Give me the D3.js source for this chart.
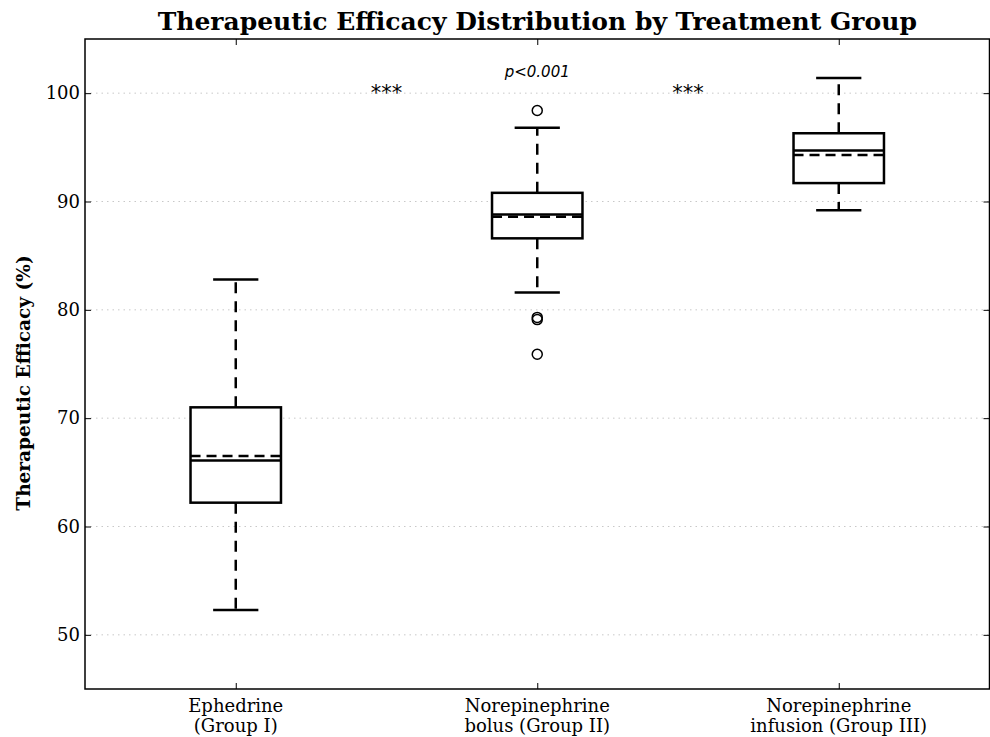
<!DOCTYPE html>
<html>
<head>
<meta charset="utf-8">
<script src="https://cdn.jsdelivr.net/npm/d3@7"></script>
<style>
  body { margin: 0; background: #fff; }
  text { font-family: "DejaVu Serif", serif; }
</style>
</head>
<body>
<script>
// groups, two-line labels
var groups = ["Ephedrine (Group I)", "Norepinephrine bolus (Group II)", "Norepinephrine infusion (Group III)"];
var labelLines = [["Ephedrine", "(Group I)"], ["Norepinephrine", "bolus (Group II)"], ["Norepinephrine", "infusion (Group III)"]];

// box stats
var whiskerLow = [52.3, 81.6, 89.2];
var q1 = [62.2, 86.6, 91.7];
var median = [66.1, 88.8, 94.7];
var mean = [66.5, 88.6, 94.3];
var q3 = [71.0, 90.8, 96.3];
var whiskerHigh = [82.8, 96.8, 101.4];
var outliers = [[], [98.4, 79.3, 79.1, 75.9], []];

var yTicks = [50, 60, 70, 80, 90, 100];
var sigMarks = [{x: 1.5, text: "***"}, {x: 2.5, text: "***"}];

var W = 990, H = 737;
var margin = {left: 85, right: 0, top: 39, bottom: 48};

var svg = d3.select("body").append("svg").attr("width", W).attr("height", H);

var x = d3.scaleLinear().domain([0.5, 3.5]).range([margin.left, W - margin.right - 0.5]);
var y = d3.scaleLinear().domain([45, 105]).range([H - margin.bottom, margin.top]);

var x0 = margin.left, x1 = W - margin.right - 0.5, y0 = margin.top, y1 = H - margin.bottom;

// grid
svg.append("g").selectAll("line").data(yTicks).enter().append("line")
  .attr("x1", x0).attr("x2", x1)
  .attr("y1", function(d){ return y(d); }).attr("y2", function(d){ return y(d); })
  .attr("stroke", "#c8c8c8").attr("stroke-width", 1).attr("stroke-dasharray", "1.5,4");

// axes (ticks inward)
var yAxisL = d3.axisLeft(y).tickValues(yTicks).tickSizeInner(-6).tickSizeOuter(0).tickPadding(5);
var yAxisR = d3.axisRight(y).tickValues(yTicks).tickSizeInner(-6).tickSizeOuter(0).tickFormat("");
var xAxisB = d3.axisBottom(x).tickValues([1, 2, 3]).tickSizeInner(-6).tickSizeOuter(0).tickFormat("");
var xAxisT = d3.axisTop(x).tickValues([1, 2, 3]).tickSizeInner(-6).tickSizeOuter(0).tickFormat("");

var gl = svg.append("g").attr("transform", "translate(" + x0 + ",0)").call(yAxisL);
gl.selectAll("text").style("font-size", "18px").style("font-family", "DejaVu Serif").attr("fill", "#000");
svg.append("g").attr("transform", "translate(" + x1 + ",0)").call(yAxisR);
svg.append("g").attr("transform", "translate(0," + y1 + ")").call(xAxisB);
svg.append("g").attr("transform", "translate(0," + y0 + ")").call(xAxisT);
svg.selectAll(".domain").remove();
svg.selectAll(".tick line").attr("stroke", "#000").attr("stroke-width", 1);

// frame
svg.append("rect").attr("x", x0).attr("y", y0).attr("width", x1 - x0).attr("height", y1 - y0)
  .attr("fill", "none").attr("stroke", "#000").attr("stroke-width", 1.5);

// x labels
labelLines.forEach(function(lines, i) {
  var t = svg.append("text").attr("x", x(i + 1)).attr("y", y1 + 23)
    .attr("text-anchor", "middle").style("font-size", "18px");
  lines.forEach(function(s, j) {
    t.append("tspan").attr("x", x(i + 1)).attr("dy", j === 0 ? 0 : 20).text(s);
  });
});

// boxes
var bw = 0.3, cw = 0.15;
var g = svg.append("g");
groups.forEach(function(name, i) {
  var c = i + 1;
  // whiskers
  g.append("line").attr("x1", x(c)).attr("x2", x(c)).attr("y1", y(q3[i])).attr("y2", y(whiskerHigh[i]))
    .attr("stroke", "#000").attr("stroke-width", 2.5).attr("stroke-dasharray", "11,8");
  g.append("line").attr("x1", x(c)).attr("x2", x(c)).attr("y1", y(q1[i])).attr("y2", y(whiskerLow[i]))
    .attr("stroke", "#000").attr("stroke-width", 2.5).attr("stroke-dasharray", "11,8");
  // caps
  [whiskerLow[i], whiskerHigh[i]].forEach(function(v) {
    g.append("line").attr("x1", x(c - cw / 2)).attr("x2", x(c + cw / 2)).attr("y1", y(v)).attr("y2", y(v))
      .attr("stroke", "#000").attr("stroke-width", 2.5);
  });
  // box
  g.append("rect").attr("x", x(c - bw / 2)).attr("y", y(q3[i]))
    .attr("width", x(c + bw / 2) - x(c - bw / 2)).attr("height", y(q1[i]) - y(q3[i]))
    .attr("fill", "#fff").attr("stroke", "#000").attr("stroke-width", 2.5);
  // median
  g.append("line").attr("x1", x(c - bw / 2)).attr("x2", x(c + bw / 2)).attr("y1", y(median[i])).attr("y2", y(median[i]))
    .attr("stroke", "#000").attr("stroke-width", 2.5);
  // mean
  g.append("line").attr("x1", x(c - bw / 2)).attr("x2", x(c + bw / 2)).attr("y1", y(mean[i])).attr("y2", y(mean[i]))
    .attr("stroke", "#000").attr("stroke-width", 2.5).attr("stroke-dasharray", "10,6");
  // outliers
  g.selectAll(null).data(outliers[i]).enter().append("circle")
    .attr("cx", x(c)).attr("cy", function(d){ return y(d); }).attr("r", 5)
    .attr("fill", "none").attr("stroke", "#000").attr("stroke-width", 1.5);
});

// significance
svg.selectAll(null).data(sigMarks).enter().append("text")
  .attr("x", function(d){ return x(d.x); }).attr("y", y(99.4))
  .attr("text-anchor", "middle").style("font-family", "DejaVu Sans").style("font-size", "21px")
  .text(function(d){ return d.text; });
svg.append("text").attr("x", x(2)).attr("y", y(101.5)).attr("text-anchor", "middle")
  .style("font-family", "DejaVu Sans").style("font-size", "15px").style("font-style", "italic").text("p<0.001");

// title
svg.append("text").attr("x", (x0 + x1) / 2).attr("y", 30).attr("text-anchor", "middle")
  .style("font-size", "25px").style("font-weight", "bold").text("Therapeutic Efficacy Distribution by Treatment Group");

// y label
svg.append("text").attr("transform", "translate(30,383) rotate(-90)")
  .attr("text-anchor", "middle").style("font-size", "18.5px").style("font-weight", "bold")
  .text("Therapeutic Efficacy (%)");
</script>
</body>
</html>
